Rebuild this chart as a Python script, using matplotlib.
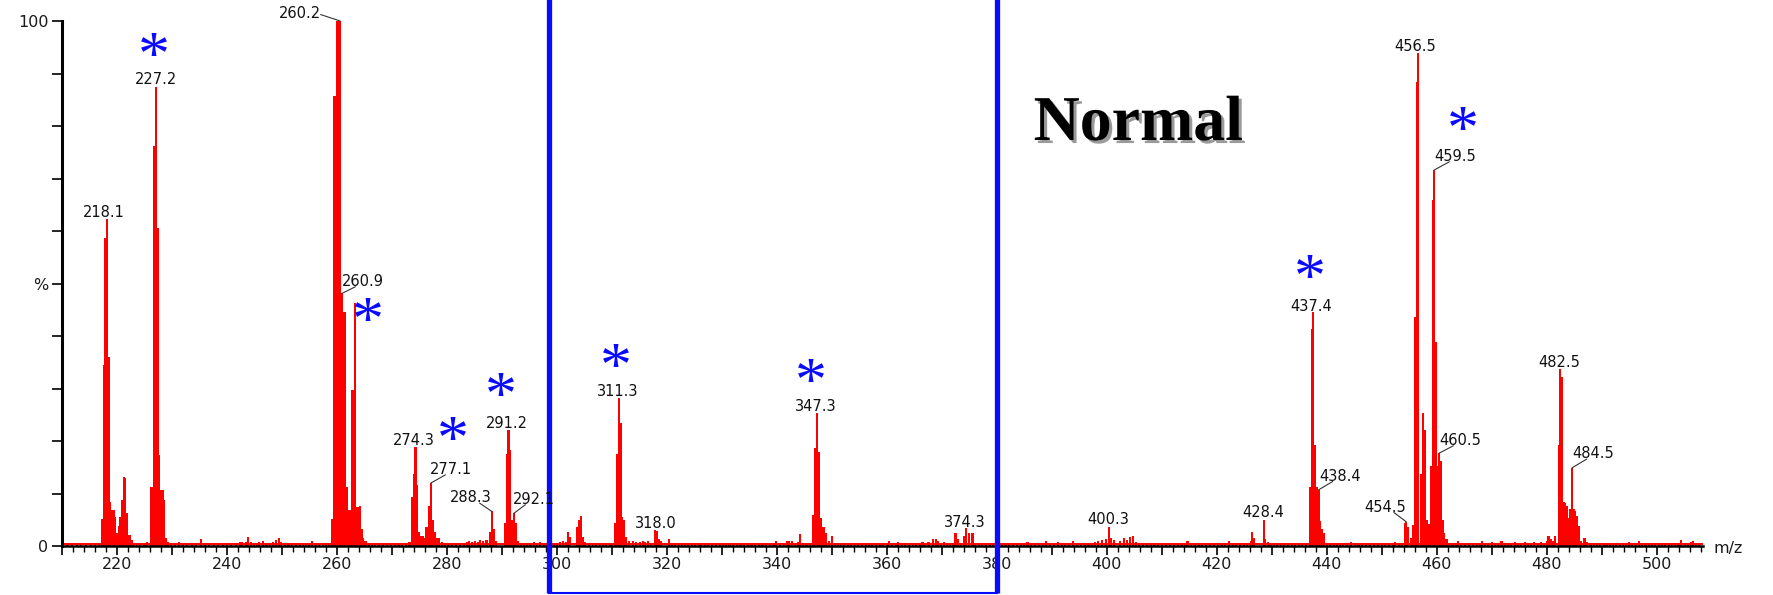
import numpy as np
import matplotlib
matplotlib.use("Agg")
import matplotlib.pyplot as plt
from matplotlib.ticker import MultipleLocator, FuncFormatter, FixedLocator
from matplotlib.lines import Line2D
import matplotlib.patheffects as pe
import matplotlib.transforms as mtransforms

plt.rcParams["mathtext.fontset"] = "custom"
plt.rcParams["mathtext.rm"] = "Liberation Serif"
plt.rcParams["mathtext.it"] = "Liberation Serif:italic"
plt.rcParams["mathtext.bf"] = "Liberation Serif:bold"

# ---------------- data (m/z, relative intensity %) ----------------
c218_mz = [217.3, 217.6, 217.9, 218.25, 218.5, 218.8, 219.1, 219.4, 219.7, 220.0,
           220.3, 220.6, 220.9, 221.2, 221.5, 221.8, 222.1, 222.4, 222.7, 223.0]
c218_in = [5.2, 34.5, 58.6, 62.2, 36.0, 8.3, 6.9, 6.9, 5.6, 2.5,
           3.8, 5.5, 8.8, 13.2, 12.9, 6.2, 2.1, 2.1, 1.2, 0.4]

c227_mz = [226.2, 226.5, 226.8, 227.1, 227.4, 227.7, 228.0, 228.3, 228.6, 228.9, 229.3]
c227_in = [11.3, 11.3, 76.2, 87.4, 60.5, 17.3, 10.7, 10.7, 8.8, 1.5, 0.8]

c260_mz = [259.2, 259.45, 259.75, 260.0, 260.3, 260.6, 260.9, 261.2, 261.5, 261.8, 262.1,
           262.4, 262.7, 263.0, 263.3, 263.6, 263.9, 264.2, 264.5, 264.8, 265.2]
c260_in = [5.2, 85.7, 85.7, 100.0, 100.0, 100.0, 48.1, 44.6, 44.6, 11.3, 6.9,
           6.9, 29.7, 29.7, 46.2, 7.5, 7.5, 7.6, 3.2, 1.5, 0.9]

c274_mz = [273.6, 273.95, 274.3, 274.6, 274.9, 275.3, 275.7, 276.0, 276.3, 276.7,
           277.1, 277.4, 277.8, 278.2, 278.6, 279.1]
c274_in = [9.4, 13.8, 18.9, 11.6, 2.7, 1.9, 1.9, 1.5, 3.7, 7.6,
           12.0, 4.9, 2.6, 1.6, 1.6, 0.8]

c291_mz = [287.8, 288.15, 288.5, 288.9, 290.5, 290.9, 291.2, 291.55, 291.85, 292.15, 292.5, 292.9]
c291_in = [2.6, 6.6, 3.3, 1.0, 4.3, 17.6, 22.1, 18.3, 4.9, 6.2, 4.3, 1.0]

c311_mz = [302.05, 302.45, 303.6, 304.0, 304.4, 304.8, 305.2,
           310.55, 310.95, 311.3, 311.6, 311.9, 312.25, 312.65, 313.2, 313.8,
           317.8, 318.15, 318.55, 319.0, 320.4]
c311_in = [2.7, 1.7, 3.7, 4.9, 5.7, 1.7, 0.8,
           4.3, 17.6, 28.1, 23.4, 5.6, 4.9, 1.7, 0.9, 0.9,
           3.0, 2.9, 1.3, 0.9, 1.4]

c347_mz = [346.6, 347.0, 347.3, 347.6, 348.0, 348.5, 348.95, 349.5, 350.1]
c347_in = [5.9, 18.6, 25.3, 17.9, 5.3, 3.7, 2.5, 0.9, 2.0]

c374_mz = [368.4, 368.9, 372.5, 373.0, 374.0, 374.4, 375.0, 375.6,
           398.4, 399.2, 399.8, 400.4, 400.8, 401.3, 402.5, 403.1, 403.7, 404.3, 404.8, 405.3]
c374_in = [1.3, 1.3, 2.4, 1.3, 1.9, 3.5, 2.5, 2.4,
           1.0, 1.2, 1.4, 3.7, 1.6, 1.1, 0.9, 1.5, 1.2, 1.8, 1.9, 0.7]

c437_mz = [426.2, 426.5, 426.8, 428.55, 428.85, 429.3,
           437.0, 437.3, 437.6, 437.9, 438.25, 438.55, 438.85, 439.2, 439.6, 440.1]
c437_in = [1.0, 2.7, 1.5, 5.0, 1.3, 0.8,
           11.3, 41.3, 44.5, 19.2, 11.3, 10.7, 4.7, 3.2, 2.5, 0.6]

c456_mz = [454.2, 454.5, 454.85, 455.3, 455.75, 456.1, 456.4, 456.7, 457.1, 457.5,
           457.85, 458.2, 458.6, 459.0, 459.3, 459.55, 459.85, 460.15, 460.5, 460.8,
           461.1, 461.4, 461.8]
c456_in = [4.3, 4.6, 3.7, 1.5, 4.0, 43.7, 88.4, 94.0, 13.8, 25.3,
           22.1, 5.0, 4.1, 15.2, 65.9, 71.6, 38.9, 15.2, 17.7, 16.1,
           5.0, 2.5, 1.3]

c482_mz = [480.35, 480.85, 481.6, 482.2, 482.5, 482.8, 483.1, 483.4, 483.7, 484.0,
           484.3, 484.65, 484.95, 485.25, 485.55, 485.85, 486.3, 486.9]
c482_in = [1.9, 1.3, 1.9, 19.2, 33.8, 32.2, 8.3, 8.1, 7.6, 5.4,
           7.0, 14.9, 7.0, 6.7, 5.7, 3.8, 1.0, 1.6]

noise_mz = [211.0, 211.8, 212.7, 213.5, 214.3, 215.2, 216.0, 216.7,
            223.6, 224.2, 225.0, 225.4, 229.8, 230.5, 231.2, 232.0, 232.8, 233.6, 234.4, 235.3,
            236.0, 236.8, 237.6, 238.4, 239.2, 240.0, 240.8, 241.6, 242.3, 242.8, 243.4, 243.9,
            244.4, 244.9, 245.4, 245.9, 246.6, 247.2, 247.8, 248.4, 248.9, 249.4, 249.9, 250.5,
            251.2, 251.9, 252.6, 253.3, 253.8, 254.4, 255.0, 255.5, 256.2, 256.8, 257.4, 258.0, 258.6,
            265.8, 266.4, 267.0, 267.7, 268.4, 269.1, 269.8, 270.5, 271.2, 271.9, 272.6, 273.2,
            279.7, 280.3, 281.0, 281.7, 282.4, 283.1, 283.6, 284.1, 284.6, 285.1, 285.6, 286.1, 286.6, 287.2,
            293.4, 294.0, 294.6, 295.2, 295.8, 296.4, 297.0, 297.6, 298.2, 298.8, 299.4, 300.0, 300.6, 301.1, 301.6,
            305.8, 306.5, 307.2, 307.9, 308.4, 309.0, 309.7, 310.1,
            314.4, 315.1, 315.6, 316.1, 316.6, 317.2,
            320.9, 321.5, 322.2, 322.8, 323.3, 323.9, 324.5, 325.2, 325.8, 326.3, 326.9, 327.5, 328.2, 328.9,
            329.6, 330.2, 330.8, 331.4, 332.0, 332.7, 333.4, 334.0, 334.7, 335.4, 336.1, 336.8, 337.4, 338.1,
            338.8, 339.4, 339.9, 340.6, 341.3, 341.8, 342.3, 342.8, 343.3, 343.8, 344.3, 344.8, 345.4, 346.0,
            350.6, 351.2, 351.7, 352.3, 352.9, 353.5, 354.2, 354.8, 355.5, 356.2, 356.7, 357.3, 358.0, 358.7,
            359.4, 360.0, 360.4, 361.0, 361.6, 362.1, 362.7, 363.4, 364.1, 364.8, 365.4, 366.0, 366.5, 367.0,
            367.6, 369.4, 369.9, 370.4, 370.9, 371.5, 372.0, 373.5,
            376.1, 376.7, 377.3, 378.0, 378.7, 379.4, 380.2, 380.9, 381.6, 382.3, 383.0, 383.7, 384.4, 385.0,
            385.6, 386.3, 387.0, 387.7, 388.4, 389.0, 389.7, 390.4, 391.1, 391.8, 392.5, 393.2, 393.9, 394.6,
            395.3, 396.0, 396.7, 397.4, 397.9,
            405.9, 406.6, 407.3, 408.0, 408.7, 409.4, 410.1, 410.8, 411.5, 412.2, 412.9, 413.6, 414.3, 414.7,
            415.3, 416.0, 416.7, 417.4, 418.1, 418.8, 419.5, 420.2, 420.9, 421.6, 422.3, 422.9, 423.5, 424.2,
            424.9, 425.6,
            429.8, 430.4, 431.0, 431.7, 432.3, 433.0, 433.7, 434.3, 435.0, 435.6, 436.3,
            440.7, 441.3, 441.9, 442.4, 443.0, 443.7, 444.5, 445.1, 445.8, 446.5, 447.2, 447.9, 448.6, 449.3,
            450.0, 450.7, 451.4, 452.0, 452.5, 453.1, 453.7,
            462.3, 462.9, 463.5, 463.9, 464.5, 465.2, 465.9, 466.6, 467.3, 467.9, 468.3, 468.8, 469.4, 470.0,
            470.6, 471.2, 471.8, 472.4, 473.0, 473.6, 474.2, 474.8, 475.4, 476.0, 476.6, 477.2, 477.8, 478.4,
            479.0, 479.6, 480.0, 481.1,
            487.4, 488.0, 488.6, 489.2, 489.8, 490.4, 490.9, 491.5, 492.1, 492.7, 493.3, 493.9, 494.5, 495.0,
            495.6, 496.2, 496.8, 497.4, 498.0, 498.6, 499.2, 499.8, 500.4, 501.0, 501.6, 502.2, 502.8, 503.4,
            504.0, 504.5, 505.1, 505.7, 506.3, 506.7, 507.2, 507.8]
noise_in = [0.3, 0.4, 0.5, 0.3, 0.5, 0.4, 0.3, 0.4,
            0.4, 0.6, 0.3, 0.7, 0.5, 0.6, 0.7, 0.4, 0.5, 0.3, 0.4, 1.4,
            0.4, 0.3, 0.4, 0.3, 0.3, 0.4, 0.3, 0.4, 0.7, 0.8, 0.7, 1.7,
            0.7, 0.6, 0.5, 0.8, 1.0, 0.5, 0.6, 0.8, 1.1, 1.5, 0.8, 0.4,
            0.5, 0.3, 0.6, 0.4, 0.6, 0.4, 0.5, 0.9, 0.6, 0.4, 0.6, 0.4, 0.6,
            0.5, 0.4, 0.4, 0.3, 0.5, 0.4, 0.3, 0.4, 0.3, 0.4, 0.5, 0.7,
            0.5, 0.4, 0.3, 0.4, 0.5, 0.6, 0.8, 0.9, 0.7, 1.0, 0.8, 1.1, 0.9, 1.1,
            0.6, 0.5, 0.6, 0.4, 0.7, 0.5, 0.8, 0.6, 0.5, 0.6, 0.4, 0.5, 0.8, 0.9, 0.8,
            0.5, 0.4, 0.5, 0.4, 0.6, 0.4, 0.3, 0.5,
            0.7, 0.8, 0.9, 0.7, 1.0, 0.6,
            0.5, 0.4, 0.5, 0.4, 0.6, 0.4, 0.3, 0.4, 0.5, 0.6, 0.4, 0.3, 0.4, 0.4,
            0.5, 0.3, 0.4, 0.4, 0.3, 0.4, 0.3, 0.4, 0.3, 0.4, 0.3, 0.4, 0.3, 0.4,
            0.3, 0.5, 1.0, 0.5, 0.6, 1.0, 0.9, 1.0, 0.6, 0.7, 2.2, 0.6, 0.5, 0.6,
            0.6, 0.5, 0.4, 0.5, 0.4, 0.3, 0.3, 0.4, 0.3, 0.4, 0.5, 0.3, 0.4, 0.3,
            0.4, 0.6, 1.0, 0.5, 0.6, 0.7, 0.4, 0.3, 0.4, 0.3, 0.4, 0.5, 0.8, 0.5,
            0.8, 0.9, 0.6, 0.7, 0.5, 0.4, 0.6, 0.6,
            0.5, 0.4, 0.3, 0.4, 0.3, 0.4, 0.4, 0.3, 0.4, 0.5, 0.3, 0.4, 0.6, 0.4,
            0.8, 0.5, 0.4, 0.6, 0.5, 0.9, 0.4, 0.5, 0.7, 0.4, 0.5, 0.6, 0.9, 0.4,
            0.5, 0.4, 0.6, 0.5, 0.8,
            0.5, 0.4, 0.5, 0.3, 0.4, 0.5, 0.3, 0.4, 0.5, 0.4, 0.3, 0.4, 0.6, 1.0,
            0.5, 0.4, 0.5, 0.4, 0.5, 0.3, 0.6, 0.4, 0.5, 0.4, 1.0, 0.5, 0.4, 0.5,
            0.4, 0.6,
            0.5, 0.4, 0.6, 0.5, 0.4, 0.6, 0.4, 0.5, 0.4, 0.3, 0.4,
            0.5, 0.4, 0.6, 0.5, 0.4, 0.5, 0.7, 0.4, 0.5, 0.4, 0.5, 0.4, 0.3, 0.4,
            0.5, 0.4, 0.5, 0.6, 0.8, 0.5, 0.6,
            0.6, 0.5, 0.4, 1.0, 0.5, 0.4, 0.5, 0.4, 0.5, 0.6, 1.0, 0.6, 0.5, 0.7,
            0.5, 0.6, 1.0, 0.5, 0.6, 0.5, 0.7, 0.6, 0.5, 0.8, 0.6, 0.5, 0.7, 0.6,
            0.8, 0.5, 0.9, 0.9,
            0.7, 0.5, 0.4, 0.5, 0.4, 0.5, 0.6, 0.4, 0.5, 0.4, 0.3, 0.5, 0.6, 0.7,
            0.5, 0.6, 0.9, 0.5, 0.6, 0.4, 0.5, 0.6, 0.5, 0.6, 0.4, 0.5, 0.6, 0.5,
            0.6, 1.1, 0.6, 0.5, 0.7, 0.9, 0.5, 0.4]
baseline_level = 0.3

# labelled peaks: text and the m/z of the stick it points at
label_text = ["218.1", "227.2", "260.2", "260.9", "274.3", "277.1", "288.3", "291.2",
              "292.1", "311.3", "318.0", "347.3", "374.3", "400.3", "428.4", "437.4",
              "438.4", "454.5", "456.5", "459.5", "460.5", "482.5", "484.5"]
label_mz = [218.25, 227.1, 260.6, 260.9, 274.3, 277.1, 288.15, 291.2,
            292.15, 311.3, 318.15, 347.3, 374.4, 400.4, 428.55, 437.6,
            438.55, 454.5, 456.7, 459.55, 460.5, 482.5, 484.65]

# peaks marked with a blue asterisk (centre of the asterisk, m/z and %)
star_mz = [226.5, 265.4, 280.8, 289.6, 310.4, 346.0, 436.7, 464.5]
star_in = [95.1, 44.6, 21.9, 30.3, 35.9, 32.9, 52.8, 80.9]

# highlighted m/z window (blue frame)
window_mz = (298.6, 380.1)

x_ticks_labeled = [220, 240, 260, 280, 300, 320, 340, 360, 380, 400, 420, 440, 460, 480, 500]
y_tick_vals = [0, 50, 100]
y_tick_text = ["0", "%", "100"]

# ---------------- layout ----------------
# (ha, dx px, dy px, relpos for leader line or None)
label_layout = [
    ("center", -3.2, 2.8, None), ("center", -0.5, 3.2, None),
    ("right", -19.6, 2.7, (1.0, 0.45)), ("left", -0.3, 7.5, (0.33, 0.15)),
    ("center", -1.5, 1.8, None), ("left", -1.0, 9.0, (0.37, 0.15)),
    ("right", 0.0, 9.0, (0.71, 0.15)), ("center", -1.1, 1.7, None),
    ("left", -0.5, 9.5, (0.29, 0.15)), ("center", -0.9, 2.5, None),
    ("center", -1.3, 3.1, None), ("center", -0.9, 2.2, None),
    ("center", -1.5, 1.0, None), ("center", -0.8, 2.6, None),
    ("center", 0.0, 2.5, None), ("center", -1.8, 1.7, None),
    ("left", 0.3, 9.1, (0.33, 0.15)), ("right", -0.75, 10.1, (0.72, 0.15)),
    ("center", -3.2, 1.5, None), ("left", -0.2, 9.1, (0.37, 0.15)),
    ("left", 0.25, 8.1, (0.33, 0.15)), ("center", -0.75, 1.3, None),
    ("left", -0.3, 9.5, (0.36, 0.15)),
]

RED = "#ff0000"
BLUE = "#0a0aff"

mz = np.concatenate([c218_mz, c227_mz, c260_mz, c274_mz, c291_mz, c311_mz, c347_mz,
                     c374_mz, c437_mz, c456_mz, c482_mz, noise_mz])
inten = np.concatenate([c218_in, c227_in, c260_in, c274_in, c291_in, c311_in, c347_in,
                        c374_in, c437_in, c456_in, c482_in, noise_in])

W, H, DPI = 1774, 595, 100
fig = plt.figure(figsize=(W / DPI, H / DPI), dpi=DPI)
ax = fig.add_axes([62 / W, 49 / H, 1640.7 / W, 525 / H])

ax.bar(mz, inten, width=0.38, color=RED, linewidth=0, zorder=2, antialiased=False)
ax.axhline(baseline_level, color=RED, lw=1.4, zorder=1.9)

ax.set_xlim(210, 508.4)
ax.set_ylim(0, 100)
for s in ("top", "right"):
    ax.spines[s].set_visible(False)
ax.spines["left"].set_linewidth(2.2)
ax.spines["bottom"].set_linewidth(1.8)
ax.spines["left"].set_zorder(3)
ax.spines["bottom"].set_zorder(3)

ax.xaxis.set_major_locator(MultipleLocator(10))
ax.xaxis.set_minor_locator(MultipleLocator(2))
ax.xaxis.set_major_formatter(FuncFormatter(
    lambda v, p: "%d" % round(v) if round(v) in x_ticks_labeled else ""))
ax.yaxis.set_major_locator(FixedLocator(y_tick_vals))
ax.set_yticklabels(y_tick_text)
ax.yaxis.set_minor_locator(MultipleLocator(10))

ax.tick_params(axis="x", which="major", length=6.5, width=1.2, pad=1.5,
               labelsize=11.5, labelcolor="#1a1a1a", direction="out")
ax.tick_params(axis="x", which="minor", length=4.5, width=1.0, direction="out")
ax.tick_params(axis="y", which="both", length=7.2, width=1.2, pad=2.5,
               labelsize=11.5, labelcolor="#1a1a1a", direction="out")
for lab in ax.get_xticklabels() + ax.get_yticklabels():
    lab.set_family("DejaVu Sans")

ax.text(1.0063, -0.004, "m/z", transform=ax.transAxes, ha="left", va="center",
        fontsize=11.5, family="DejaVu Sans", color="#1a1a1a")

# peak labels
for txt, pm, (ha, dx, dy, rel) in zip(label_text, label_mz, label_layout):
    idx = int(np.argmin(np.abs(mz - pm)))
    xy = (mz[idx], inten[idx])
    kw = {}
    if rel is not None:
        kw["arrowprops"] = dict(arrowstyle="-", color="#333333", lw=0.8,
                                shrinkA=0, shrinkB=0, patchA=None, relpos=rel)
    ax.annotate(txt, xy=xy, xytext=(dx, dy), textcoords="offset pixels",
                ha=ha, va="baseline", fontsize=10.5, family="DejaVu Sans",
                color="#111111", zorder=12, annotation_clip=False, **kw)

# blue asterisks (math text gives a box tight around the glyph)
for sm, si in zip(star_mz, star_in):
    ax.annotate(r"$*$", xy=(sm, si), xytext=(0, -8), textcoords="offset pixels",
                ha="center", va="center", fontsize=46, color=BLUE, zorder=5,
                annotation_clip=False)

# "Normal" title with shadow
fig.text(1033.6 / W, 1 - 140 / H, "Normal", fontsize=46, fontweight="bold",
         family="Liberation Serif", color="black", ha="left", va="baseline",
         path_effects=[pe.withSimplePatchShadow(offset=(2.2, -2.2),
                                                shadow_rgbFace="#9a9a9a", alpha=1.0)])

# blue frame around window
blend = mtransforms.blended_transform_factory(ax.transData, ax.transAxes)
y_bot = (546 - 593.3) / 525
for xm in window_mz:
    ax.add_line(Line2D([xm, xm], [y_bot, 1.2], transform=blend, color=BLUE,
                       lw=3.8, clip_on=False, zorder=10, solid_capstyle="butt"))
ax.add_line(Line2D([window_mz[0], window_mz[1]], [y_bot, y_bot], transform=blend,
                   color=BLUE, lw=1.5, clip_on=False, zorder=10))

fig.savefig("out.png", dpi=DPI)
